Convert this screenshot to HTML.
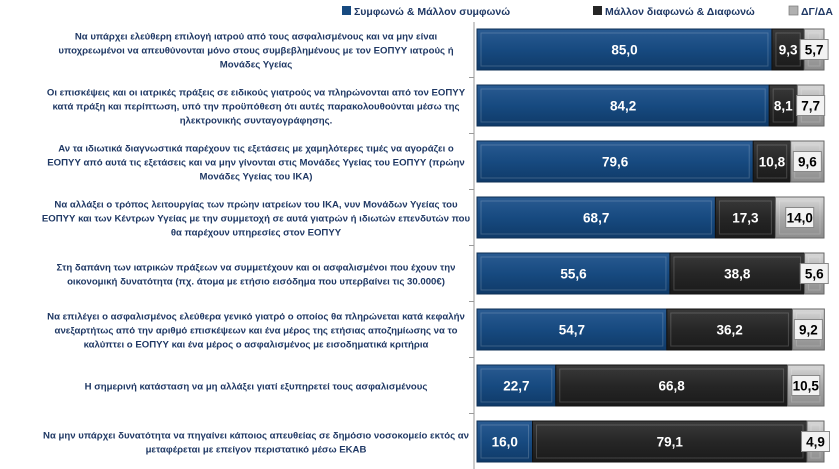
<!DOCTYPE html>
<html><head><meta charset="utf-8"><style>
body{margin:0;background:#fff;}
svg{display:block;font-family:"Liberation Sans","DejaVu Sans",sans-serif;}
</style></head><body>
<svg id="chart" width="839" height="469" viewBox="0 0 839 469">
<defs>
<linearGradient id="gBlue" x1="0" y1="0" x2="0" y2="1"><stop offset="0" stop-color="#2a5b92"/><stop offset="0.5" stop-color="#174a80"/><stop offset="1" stop-color="#0f3a68"/></linearGradient>
<linearGradient id="gDark" x1="0" y1="0" x2="0" y2="1"><stop offset="0" stop-color="#3a3a3a"/><stop offset="0.5" stop-color="#262626"/><stop offset="1" stop-color="#1a1a1a"/></linearGradient>
<linearGradient id="gGrey" x1="0" y1="0" x2="0" y2="1"><stop offset="0" stop-color="#d8d8d8"/><stop offset="0.5" stop-color="#a9a9a9"/><stop offset="1" stop-color="#8c8c8c"/></linearGradient>
</defs>
<g id="legend">
<g><rect x="342" y="6" width="9" height="9" fill="#174a80"/><text x="354" y="15" font-size="10.5" font-weight="bold" fill="#1f3864">Συμφωνώ &amp; Μάλλον συμφωνώ</text></g>
<g><rect x="593" y="6" width="9" height="9" fill="#262626"/><text x="605" y="15" font-size="10.5" font-weight="bold" fill="#1f3864">Μάλλον διαφωνώ &amp; Διαφωνώ</text></g>
<g><rect x="789" y="6" width="9" height="9" fill="#b0b0b0" stroke="#777" stroke-width="0.7"/><text x="801" y="15" font-size="10.5" font-weight="bold" fill="#1f3864">ΔΓ/ΔΑ</text></g>
</g>
<line x1="474" y1="22" x2="474" y2="469" stroke="#999" stroke-width="1"/>
<g id="rows"></g>
</svg>
<script>
const categories=[
["Να υπάρχει ελεύθερη επιλογή ιατρού από τους ασφαλισμένους και να μην είναι","υποχρεωμένοι να απευθύνονται μόνο στους συμβεβλημένους με τον ΕΟΠΥΥ ιατρούς ή","Μονάδες Υγείας"],
["Οι επισκέψεις και οι ιατρικές πράξεις σε ειδικούς γιατρούς να πληρώνονται από τον ΕΟΠΥΥ","κατά πράξη και περίπτωση, υπό την προϋπόθεση ότι αυτές παρακολουθούνται μέσω της","ηλεκτρονικής συνταγογράφησης."],
["Αν τα ιδιωτικά διαγνωστικά παρέχουν τις εξετάσεις με χαμηλότερες τιμές να αγοράζει ο","ΕΟΠΥΥ από αυτά τις εξετάσεις και να μην γίνονται στις Μονάδες Υγείας του ΕΟΠΥΥ (πρώην","Μονάδες Υγείας του ΙΚΑ)"],
["Να αλλάξει ο τρόπος λειτουργίας των πρώην ιατρείων του ΙΚΑ, νυν Μονάδων Υγείας του","ΕΟΠΥΥ και των Κέντρων Υγείας με την συμμετοχή σε αυτά γιατρών ή ιδιωτών επενδυτών που","θα παρέχουν υπηρεσίες στον ΕΟΠΥΥ"],
["Στη δαπάνη των ιατρικών πράξεων να συμμετέχουν και οι ασφαλισμένοι που έχουν την","οικονομική δυνατότητα (πχ. άτομα με ετήσιο εισόδημα που υπερβαίνει τις 30.000€)"],
["Να επιλέγει ο ασφαλισμένος ελεύθερα γενικό γιατρό ο οποίος θα πληρώνεται κατά κεφαλήν","ανεξαρτήτως από την αριθμό επισκέψεων και ένα μέρος της ετήσιας αποζημίωσης να το","καλύπτει ο ΕΟΠΥΥ και ένα μέρος ο ασφαλισμένος με εισοδηματικά κριτήρια"],
["Η σημερινή κατάσταση να μη αλλάξει γιατί εξυπηρετεί τους ασφαλισμένους"],
["Να μην υπάρχει δυνατότητα να πηγαίνει κάποιος απευθείας σε δημόσιο νοσοκομείο εκτός αν","μεταφέρεται με επείγον περιστατικό μέσω ΕΚΑΒ"]
];
const agree=[85.0,84.2,79.6,68.7,55.6,54.7,22.7,16.0];
const disagree=[9.3,8.1,10.8,17.3,38.8,36.2,66.8,79.1];
const dkna=[5.7,7.7,9.6,14.0,5.6,9.2,10.5,4.9];

const NS="http://www.w3.org/2000/svg";
const x0=477, unit=3.47, rowTop=29, rowStep=56, barH=41;
const xs=v=>v*unit;
const yc=i=>rowTop+barH/2+i*rowStep;
const g=document.getElementById('rows');
function mk(tag,attrs){const e=document.createElementNS(NS,tag);for(const k in attrs)e.setAttribute(k,attrs[k]);return e;}
const fmt=v=>v.toFixed(1).replace('.',',');
categories.forEach((lines,i)=>{
  const cy=yc(i);
  const row=mk('g',{});
  
  
  if(i>0){const t=mk('line',{x1:469,x2:474,y1:cy-rowStep/2,y2:cy-rowStep/2,stroke:'#999'});row.appendChild(t);}
  const lh=14, startY=cy-(lines.length-1)*lh/2+4;
  const tx=mk('text',{x:256,'text-anchor':'middle','font-size':'9.6','font-weight':'bold',fill:'#1f3864'});
  
  
  lines.forEach((l,k)=>{const ts=mk('tspan',{x:256,y:startY+k*lh});ts.textContent=l;tx.appendChild(ts);});
  row.appendChild(tx);
  const y=cy-barH/2;
  let x=x0;
  const segs=[[agree[i],'url(#gBlue)','#0d2f55','#fff','bar-agree'],[disagree[i],'url(#gDark)','#111','#fff','bar-disagree'],[dkna[i],'url(#gGrey)','#666','#000','bar-dk']];
  segs.forEach(([v,fill,stroke,tc,name],si)=>{
    const w=xs(v);
    const r=mk('rect',{x:x,y:y,width:w,height:barH,fill:fill,stroke:stroke,'stroke-width':1});
    
    
    row.appendChild(r);
    const inner=mk('rect',{x:x+4,y:y+4,width:Math.max(w-8,0),height:barH-8,fill:'none',stroke:'rgba(255,255,255,0.18)','stroke-width':1});
    
    
    row.appendChild(inner);
    const cx=x+w/2;
    if(si===2){
      const bw=28,bh=20;
      const bx=mk('rect',{x:cx-bw/2,y:cy-bh/2,width:bw,height:bh,fill:'#f2f2f2',stroke:'#888'});
      
      
      row.appendChild(bx);
    }
    const lt=mk('text',{x:cx,y:cy+5,'text-anchor':'middle','font-size':'13.5','font-weight':'bold',fill:tc});
    
    
    lt.textContent=fmt(v);
    row.appendChild(lt);
    x+=w;
  });
  g.appendChild(row);
});
</script>
</body></html>
